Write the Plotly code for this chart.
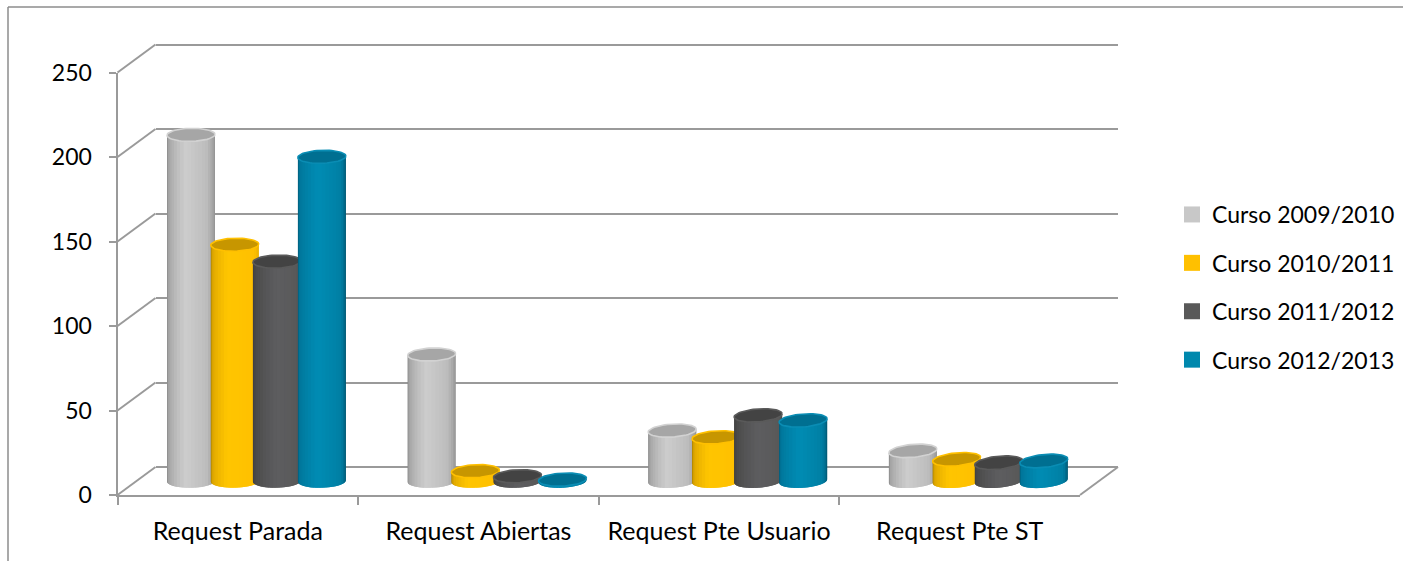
import numpy as np
import plotly.graph_objects as go

# Chart data
categories = ["Request Parada", "Request Abiertas", "Request Pte Usuario", "Request Pte ST"]
series_names = ["Curso 2009/2010", "Curso 2010/2011", "Curso 2011/2012", "Curso 2012/2013"]
curso_2009 = [205, 75, 30, 18]
curso_2010 = [140, 6, 26, 13]
curso_2011 = [130, 3, 39, 11]
curso_2012 = [192, 1, 36, 12]
value_ticks = [0, 50, 100, 150, 200, 250]

W, H = 1403, 561
FONT = "Lato"
TEXT = "#000000"
LINE = "#9a9a9a"

# Plot box of the front plane in pixels and the depth of the 3D floor
LEFT, RIGHT, BOTTOM, TOP = 117.5, 1080.0, 495.0, 72.5
DEPTH_X, DEPTH_Y = 38.0, 28.0
MID = 0.49  # cylinders stand just under half way into the floor
Y_MAX = 250.0

PX_PER_CAT = (RIGHT - LEFT) / len(categories)
PX_PER_UNIT = (BOTTOM - TOP) / Y_MAX

# Value range padding so edge gridlines and cylinder bases are not clipped
GRID_PAD = 3.0
BAR_PAD = 12.0

# Cylinder shape
OFFSETS = [-0.272, -0.09, 0.085, 0.272]
RADIUS = 24.0 / PX_PER_CAT
CAP_B = 6.5 / PX_PER_UNIT
N_STRIPS = 20

# Horizontal shading of each cylinder: (position across the width, colour)
shades = [
    [(0, "#7f7f7f"), (0.12, "#a4a4a4"), (0.42, "#cdcdcd"), (0.72, "#bdbdbd"), (0.92, "#9a9a9a"), (1, "#8a8a8a")],
    [(0, "#9c7600"), (0.14, "#e0a900"), (0.4, "#ffc600"), (0.8, "#ffc000"), (1, "#e2aa00")],
    [(0, "#3a3a3a"), (0.15, "#4a4a4a"), (0.5, "#5e5e60"), (0.85, "#585858"), (1, "#444444")],
    [(0, "#00536e"), (0.12, "#00769a"), (0.45, "#008cb4"), (0.8, "#007ea3"), (1, "#004d66")],
]
cap_fill = ["#a6a6a6", "#c79600", "#434343", "#006f91"]
cap_rim = ["#d2d2d2", "#ffc000", "#5a5a5a", "#0a8db4"]
series_values = [curso_2009, curso_2010, curso_2011, curso_2012]
legend_colors = ["#c8c8c8", "#ffc000", "#595959", "#0088ad"]


def shade_at(stops, u):
    pos = [s[0] for s in stops]
    rgb = [[int(s[1][i:i + 2], 16) for i in (1, 3, 5)] for s in stops]
    return "rgb(%d,%d,%d)" % tuple(np.interp(u, pos, [c[k] for c in rgb]) for k in range(3))


def tilt(cx):
    # Ellipses lean more the further right they sit, in value units
    return (0.3 + 2.0 * (cx + 0.5) / len(categories)) / PX_PER_UNIT


def dx(px):
    return px / W


def dy(px):
    return (H - px) / H


fig = go.Figure()

# Category axis carries the labels; this trace only registers the categories
fig.add_trace(go.Scatter(x=categories, y=[0] * len(categories), mode="none",
                         showlegend=False, hoverinfo="skip", xaxis="x", yaxis="y"))
# The back wall subplot holds the horizontal grid
fig.add_trace(go.Scatter(x=[0], y=[0], mode="none", showlegend=False,
                         hoverinfo="skip", xaxis="x2", yaxis="y2"))

angles = np.linspace(np.pi, 0, N_STRIPS + 1)

for s, values in enumerate(series_values):
    for i in range(N_STRIPS):
        arc = angles[i:min(i + 3, N_STRIPS + 1)]
        xs, ys = [], []
        for c, v in enumerate(values):
            cx = c + OFFSETS[s]
            k = tilt(cx)
            low_x = cx + RADIUS * np.cos(arc)
            low_y = -CAP_B * np.sin(arc) + k * np.cos(arc)
            top_y = v + k * np.cos(arc[::-1])
            xs += list(low_x) + list(low_x[::-1]) + [None]
            ys += list(low_y) + list(top_y) + [None]
        fig.add_trace(go.Scatter(
            x=xs, y=ys, mode="lines", fill="toself", line=dict(width=0),
            fillcolor=shade_at(shades[s], (i + 0.5) / N_STRIPS),
            showlegend=False, hoverinfo="skip", xaxis="x3", yaxis="y3"))

    # Top cap of the cylinders in this series
    ring = np.linspace(0, 2 * np.pi, 61)
    xs, ys = [], []
    for c, v in enumerate(values):
        cx = c + OFFSETS[s]
        xs += list(cx + RADIUS * np.cos(ring)) + [None]
        ys += list(v + CAP_B * np.sin(ring) + tilt(cx) * np.cos(ring)) + [None]
    fig.add_trace(go.Scatter(
        x=xs, y=ys, mode="lines", fill="toself", fillcolor=cap_fill[s],
        line=dict(color=cap_rim[s], width=1.6),
        showlegend=False, hoverinfo="skip", xaxis="x3", yaxis="y3"))

# Legend entries
for name, color in zip(series_names, legend_colors):
    fig.add_trace(go.Scatter(
        x=[None], y=[None], mode="markers", name=name, legendgroup=name,
        marker=dict(symbol="square", size=16, color=color),
        xaxis="x3", yaxis="y3"))

# Slanted side wall and floor edges, anchored on the value axis
stubs = [dict(type="line", xref="x domain", yref="y domain",
              xsizemode="pixel", ysizemode="pixel",
              xanchor=0, yanchor=v / Y_MAX,
              x0=0, x1=DEPTH_X, y0=0, y1=DEPTH_Y,
              line=dict(color=LINE, width=2), layer="below")
         for v in value_ticks]
stubs.append(dict(type="line", xref="x domain", yref="y domain",
                  xsizemode="pixel", ysizemode="pixel",
                  xanchor=1, yanchor=0,
                  x0=0, x1=DEPTH_X, y0=0, y1=DEPTH_Y,
                  line=dict(color=LINE, width=2), layer="below"))

# Chart area border, open at the right and bottom of the page
frame = [
    dict(type="line", xref="paper", yref="paper", x0=dx(8), x1=1, y0=dy(7), y1=dy(7),
         line=dict(color="#8c8c8c", width=1.5)),
    dict(type="line", xref="paper", yref="paper", x0=dx(8), x1=dx(8), y0=dy(7), y1=0,
         line=dict(color="#8c8c8c", width=1.5)),
]

fig.update_layout(
    width=W, height=H, autosize=False,
    margin=dict(l=0, r=0, t=0, b=0, pad=0, autoexpand=False),
    paper_bgcolor="#ffffff", plot_bgcolor="rgba(0,0,0,0)",
    font=dict(family=FONT, size=23, color=TEXT),
    showlegend=True,
    legend=dict(x=dx(1172), y=dy(193), xanchor="left", yanchor="top",
                tracegroupgap=15.5, itemsizing="trace", bgcolor="rgba(0,0,0,0)",
                font=dict(family=FONT, size=23, color=TEXT)),
    shapes=stubs + frame,
    # Front plane: visible axes
    xaxis=dict(domain=[dx(LEFT), dx(RIGHT)], type="category", categoryorder="array",
               categoryarray=categories, range=[-0.5, len(categories) - 0.5],
               tickson="boundaries", ticks="outside", ticklen=8, tickwidth=2, tickcolor=LINE,
               showline=True, linecolor=LINE, linewidth=2, showgrid=False,
               ticklabelstandoff=13, tickfont=dict(family=FONT, size=25, color=TEXT),
               anchor="y", fixedrange=True),
    yaxis=dict(domain=[dy(BOTTOM), dy(TOP)], range=[0, Y_MAX], tickvals=value_ticks,
               ticks="outside", ticklen=7, tickwidth=2, tickcolor=LINE,
               showline=True, linecolor=LINE, linewidth=2, showgrid=False, zeroline=False,
               ticklabelstandoff=12, tickfont=dict(family=FONT, size=23, color=TEXT),
               anchor="x", fixedrange=True),
    # Back wall: only the grid shows
    xaxis2=dict(domain=[dx(LEFT + DEPTH_X), dx(RIGHT + DEPTH_X)], range=[-0.5, 3.5],
                showgrid=False, zeroline=False, showline=False, showticklabels=False,
                ticks="", anchor="y2", fixedrange=True),
    yaxis2=dict(domain=[dy(BOTTOM - DEPTH_Y + GRID_PAD * PX_PER_UNIT),
                        dy(TOP - DEPTH_Y - GRID_PAD * PX_PER_UNIT)],
                range=[-GRID_PAD, Y_MAX + GRID_PAD],
                tickvals=value_ticks, showgrid=True, gridcolor=LINE, gridwidth=2,
                zeroline=False, showline=False, showticklabels=False, ticks="",
                anchor="x2", fixedrange=True),
    # Plane the cylinders stand on
    xaxis3=dict(domain=[dx(LEFT + MID * DEPTH_X), dx(RIGHT + MID * DEPTH_X)], range=[-0.5, 3.5],
                visible=False, anchor="y3", fixedrange=True),
    yaxis3=dict(domain=[dy(BOTTOM - MID * DEPTH_Y + BAR_PAD * PX_PER_UNIT),
                        dy(TOP - MID * DEPTH_Y)],
                range=[-BAR_PAD, Y_MAX],
                visible=False, anchor="x3", fixedrange=True),
)

fig.write_html("out.html", config={"displayModeBar": False})
